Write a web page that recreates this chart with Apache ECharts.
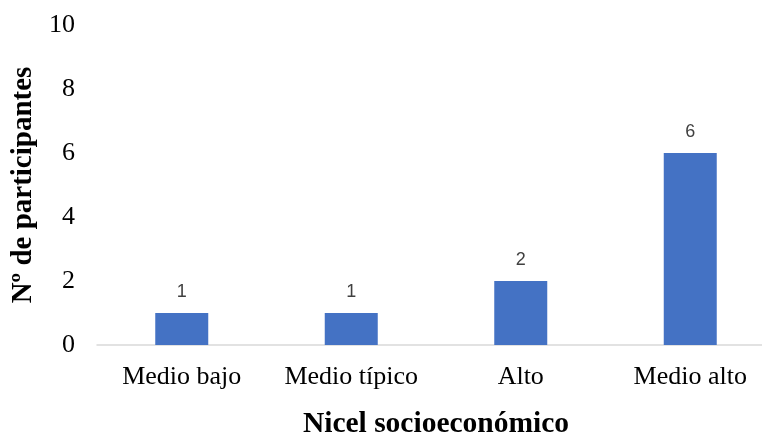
<!DOCTYPE html>
<html>
<head>
<meta charset="utf-8">
<script src="https://cdn.jsdelivr.net/npm/echarts@6/dist/echarts.min.js"></script>
<style>
  html, body { margin: 0; padding: 0; background: #fff; }
  #chart { width: 762px; height: 437px; }
</style>
</head>
<body>
<div id="chart"></div>
<script>
// Socioeconomic level of participants
const categories = ['Medio bajo', 'Medio típico', 'Alto', 'Medio alto'];
const participantes = [1, 1, 2, 6];
const yTicks = { min: 0, max: 10, interval: 2 };

const chart = echarts.init(document.getElementById('chart'));
chart.setOption({
  backgroundColor: '#ffffff',
  animation: false,
  // plot area runs past the right edge of the canvas
  grid: { left: 97, width: 678, top: 25, bottom: 92, containLabel: false, outerBoundsMode: 'none' },
  xAxis: {
    type: 'category',
    data: categories,
    name: 'Nicel socioeconómico',
    nameLocation: 'middle',
    nameGap: 64,
    nameTextStyle: { fontFamily: 'Liberation Serif', fontWeight: 'bold', fontSize: 29.5, color: '#000' },
    axisLine: { lineStyle: { color: '#d9d9d9', width: 1.5 } },
    axisTick: { show: false },
    axisLabel: { interval: 0, fontFamily: 'Liberation Serif', fontSize: 26, color: '#000', margin: 19 }
  },
  yAxis: {
    type: 'value',
    min: yTicks.min,
    max: yTicks.max,
    interval: yTicks.interval,
    name: 'Nº de participantes',
    nameLocation: 'middle',
    nameGap: 54,
    nameTextStyle: { fontFamily: 'Liberation Serif', fontWeight: 'bold', fontSize: 29, color: '#000' },
    axisLine: { show: false },
    axisTick: { show: false },
    splitLine: { show: false },
    axisLabel: { fontFamily: 'Liberation Serif', fontSize: 26, color: '#000', margin: 22 }
  },
  series: [{
    type: 'bar',
    data: participantes,
    barWidth: 53,
    itemStyle: { color: '#4472c4' },
    label: {
      show: true,
      position: 'top',
      distance: 12,
      fontFamily: 'Liberation Sans',
      fontSize: 18,
      color: '#404040'
    }
  }]
});
</script>
</body>
</html>
